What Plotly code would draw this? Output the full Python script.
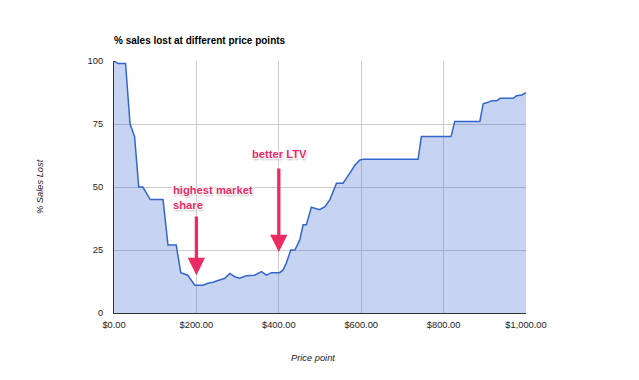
import plotly.graph_objects as go

price = [0, 10, 28, 39, 50, 60, 70, 88, 119, 131, 151, 162, 179, 187, 196, 216, 228, 240,
         256, 269, 281, 293, 305, 321, 341, 358, 370, 382, 402, 410, 418, 429, 439, 451,
         459, 467, 479, 487, 499, 512, 524, 540, 556, 572, 585, 597, 605, 738, 746, 818,
         827, 888, 896, 908, 917, 929, 937, 969, 977, 990, 1000]
sales_lost = [100, 99, 99, 75, 70, 50, 50, 45, 45, 27, 27, 16, 15, 13, 11, 11, 11.8, 12.2,
              13, 13.8, 15.7, 14.4, 13.8, 14.8, 15, 16.4, 15, 16, 16, 17, 19.7, 25, 25, 29,
              35, 35, 42, 41.5, 41, 42.2, 45, 51.5, 51.5, 55.4, 58.7, 60.7, 61, 61, 70, 70,
              76, 76, 83, 83.6, 84.2, 84.2, 85.2, 85.2, 86.2, 86.5, 87.4]

x_ticks = [0, 200, 400, 600, 800, 1000]
x_tick_labels = ["$0.00", "$200.00", "$400.00", "$600.00", "$800.00", "$1,000.00"]
y_ticks = [0, 25, 50, 75, 100]

title_text = "% sales lost at different price points"
x_title = "Price point"
y_title = "% Sales Lost"

# callouts: (label, text x, text y, arrow x, tail y, tip y)
callouts = [
    ("highest market<br>share", 138, 46, 200, 38.9, 15.0),
    ("better LTV", 329, 63, 400, 57.9, 24.2),
]

PINK = "#ec2a63"
FONT = "Liberation Sans, Arial, sans-serif"

# page body has an 8px default margin; the figure is sized to fit the window
W, H = 631, 372
L, R, T, B = 106, 113, 53, 67
PW = W - L - R

fig = go.Figure()
fig.add_trace(go.Scatter(
    x=price, y=sales_lost, mode="lines",
    line=dict(color="#3366cc", width=1.5),
    fill="tozeroy", fillcolor="rgba(51,102,204,0.28)",
    hoverinfo="skip",
))

for label, tx, ty, axv, tail, tip in callouts:
    fig.add_annotation(
        x=tx, y=ty, xref="x", yref="y", text="<b>" + label + "</b>",
        showarrow=False, xanchor="left", yanchor="middle", align="left",
        font=dict(family=FONT, size=11.2, color=PINK,
                  shadow="1px 1px 1px #fff, -1px -1px 1px #fff, 1px -1px 1px #fff, -1px 1px 1px #fff, 1px 2px 2px #aaa"),
    )
    fig.add_annotation(
        x=axv, y=tip, xref="x", yref="y", ax=axv, ay=tail, axref="x", ayref="y",
        text="", showarrow=True, arrowhead=2, arrowsize=1.05, arrowwidth=3.3,
        arrowcolor=PINK, standoff=0,
    )

# axis titles
fig.add_annotation(x=(313 - 8 - L) / PW, y=-(358 - 8 - (H - B)) / (H - T - B),
                   xref="paper", yref="paper", text="<i>" + x_title + "</i>",
                   showarrow=False, xanchor="center", yanchor="middle",
                   font=dict(family=FONT, size=9.3, color="#222"))
fig.add_annotation(x=(40 - 8 - L) / PW, y=0.5, xref="paper", yref="paper",
                   text="<i>" + y_title + "</i>", showarrow=False, textangle=-90,
                   xanchor="center", yanchor="middle",
                   font=dict(family=FONT, size=9.3, color="#222"))

fig.update_layout(
    width=W, height=H,
    margin=dict(l=L, r=R, t=T, b=B),
    paper_bgcolor="white", plot_bgcolor="white",
    showlegend=False,
    font=dict(family=FONT, size=9.3, color="#222"),
    title=dict(text="<b>" + title_text + "</b>", x=L / W, xanchor="left",
               y=1 - 32 / H, yanchor="middle",
               font=dict(family=FONT, size=10, color="#000")),
)
fig.update_xaxes(
    range=[0, 1000], tickvals=x_ticks, ticktext=x_tick_labels,
    showgrid=True, gridcolor="#cccccc", gridwidth=1,
    showline=True, linecolor="#333333", linewidth=1,
    zeroline=False, ticks="", ticklabelstandoff=3,
    tickfont=dict(family=FONT, size=9.3, color="#222"),
)
fig.update_yaxes(
    range=[0, 100], tickvals=y_ticks,
    showgrid=True, gridcolor="#cccccc", gridwidth=1,
    showline=True, linecolor="#333333", linewidth=1,
    zeroline=False, ticks="", ticklabelstandoff=8,
    tickfont=dict(family=FONT, size=9.3, color="#222"),
)

fig.write_html("out.html")
